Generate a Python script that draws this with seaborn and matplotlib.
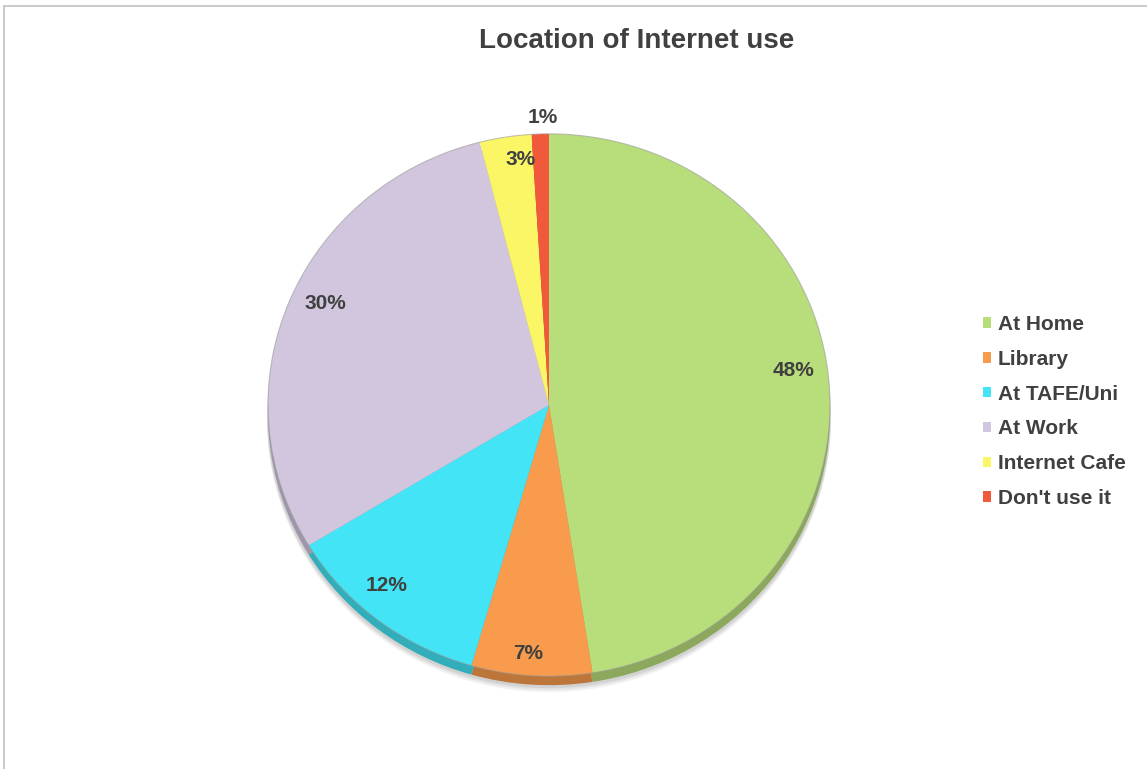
import matplotlib
matplotlib.use("Agg")
import matplotlib.pyplot as plt
import matplotlib.colors as mcolors
from matplotlib.lines import Line2D
from matplotlib.patches import Ellipse
import numpy as np
import seaborn as sns

# Survey: where people use the Internet
categories = ["At Home", "Library", "At TAFE/Uni", "At Work", "Internet Cafe", "Don't use it"]
shares = [48, 7, 12, 30, 3, 1]
colors = ["#b8dd7b", "#f99b4c", "#42e4f5", "#d2c6de", "#fbf666", "#f0593b"]
title = "Location of Internet use"

sns.set_theme(style="white")
plt.rcParams["font.family"] = ["Liberation Sans", "DejaVu Sans"]

W, H = 1147, 769
fig = plt.figure(figsize=(W / 100, H / 100), dpi=100)
fig.patch.set_facecolor("white")
ax = fig.add_axes([0, 0, 1, 1])

# slightly flattened pie to suggest a tilted disc
squash = 0.965
cx, cy_px, r = 549, 405, 281
cy = (H - cy_px) / squash
depth = 9 / squash

# soft shadow under the disc
for off, alpha in [(6, 0.05), (4, 0.06), (2, 0.07)]:
    ax.add_patch(Ellipse((cx, cy - depth - off / squash), 2 * r + 2, 2 * r + 2,
                         facecolor="#000000", alpha=alpha, lw=0, zorder=0))

# darker rim of the disc
dark = [tuple(c * 0.76 for c in mcolors.to_rgb(col)) for col in colors]
ax.pie(shares, colors=dark, startangle=90, counterclock=False,
       center=(cx, cy - depth), radius=r, frame=True,
       wedgeprops=dict(linewidth=0, zorder=1))

# top face
wedges, _ = ax.pie(shares, colors=colors, startangle=90, counterclock=False,
                   center=(cx, cy), radius=r, frame=True,
                   wedgeprops=dict(linewidth=0, zorder=2))
ax.add_patch(Ellipse((cx, cy), 2 * r, 2 * r, facecolor="none",
                     edgecolor="#9a9a9a", lw=0.8, alpha=0.6, zorder=3))

# percentage labels: radial distance and small angular nudge per slice
label_dist = [0.88, 0.92, 0.88, 0.88, 0.91, 1.06]
label_turn = [3.8, -1.0, -3.5, -3.0, -2.5, -0.5]
for w, v, d, t in zip(wedges, shares, label_dist, label_turn):
    mid = np.deg2rad((w.theta1 + w.theta2) / 2 + t)
    ax.text(cx + d * r * np.cos(mid), cy + d * r * np.sin(mid), f"{v}%",
            ha="center", va="center", fontsize=15, fontweight="bold",
            color="#404040", zorder=5)

ax.set_aspect("auto")
ax.set_autoscale_on(False)
ax.set_xlim(0, W)
ax.set_ylim(0, H / squash)
ax.axis("off")

fig.text(637 / W, 1 - 41 / H, title, ha="center", va="center",
         fontsize=20, fontweight="bold", color="#404040")

leg = ax.legend(wedges, categories, loc="upper left",
                bbox_to_anchor=(983 / W, 1 - 315 / H), bbox_transform=fig.transFigure,
                frameon=False, fontsize=15, handlelength=0.4, handleheight=0.4,
                handletextpad=0.3, labelspacing=0.76, borderpad=0, borderaxespad=0)
for t in leg.get_texts():
    t.set_fontweight("bold")
    t.set_color("#404040")

# thin frame along the top and left edges
fig.add_artist(Line2D([4 / W, 1], [1 - 6 / H, 1 - 6 / H], transform=fig.transFigure,
                      color="#c6c6c6", lw=1.3))
fig.add_artist(Line2D([4 / W, 4 / W], [0, 1 - 6 / H], transform=fig.transFigure,
                      color="#c6c6c6", lw=1.3))

fig.savefig("out.png", dpi=100, facecolor="white")
